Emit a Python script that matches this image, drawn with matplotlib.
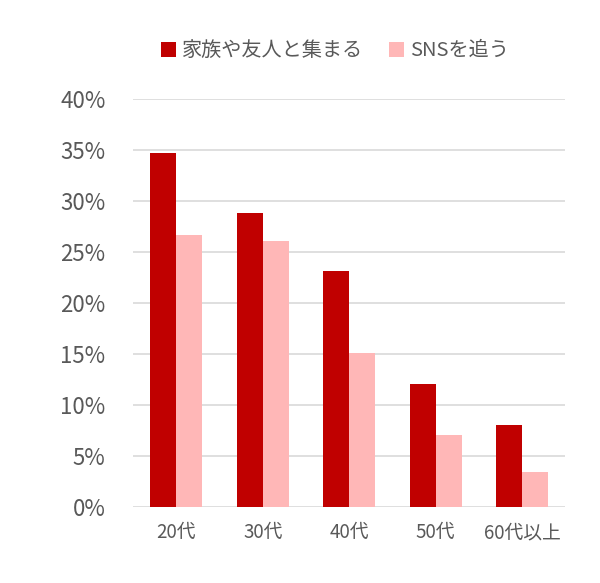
import matplotlib
matplotlib.use('Agg')
import matplotlib.pyplot as plt
from matplotlib.ticker import PercentFormatter
import numpy as np

plt.rcParams['font.family'] = ['Noto Sans CJK JP', 'DejaVu Sans']

categories = ['20代', '30代', '40代', '50代', '60代以上']
gather = [34.7, 28.8, 23.1, 12.1, 8.0]
sns_follow = [26.7, 26.1, 15.1, 7.1, 3.4]
series_names = ['家族や友人と集まる', 'SNSを追う']
colors = ['#C00000', '#FFB7B7']

fig = plt.figure(figsize=(6, 5.83), dpi=100)
ax = fig.add_axes([0.222, 0.1304, 0.72, 0.6996])

x = np.arange(len(categories))
w = 0.3
ax.bar(x - w/2, gather, w, color=colors[0], label=series_names[0], zorder=3)
ax.bar(x + w/2, sns_follow, w, color=colors[1], label=series_names[1], zorder=3)

ax.set_xlim(-0.5, len(categories) - 0.5)
ax.set_ylim(0, 40)
ax.set_yticks(np.arange(0, 41, 5))
ax.yaxis.set_major_formatter(PercentFormatter(decimals=0))
ax.grid(axis='y', color='#D9D9D9', linewidth=1.2, zorder=0)
for s in ax.spines.values():
    s.set_visible(False)
ax.tick_params(axis='both', length=0, colors='#595959')
ax.tick_params(axis='y', labelsize=16, pad=20)
ax.tick_params(axis='x', labelsize=13.5, pad=11)
ax.set_xticks(x)
ax.set_xticklabels(categories)

fig.legend(loc='upper center', bbox_to_anchor=(0.558, 0.962), ncol=2, frameon=False,
           fontsize=14.5, labelcolor='#595959', handlelength=0.75, handleheight=0.75,
           handletextpad=0.3, columnspacing=1.3)

fig.savefig('out.png', dpi=100, facecolor='white')
